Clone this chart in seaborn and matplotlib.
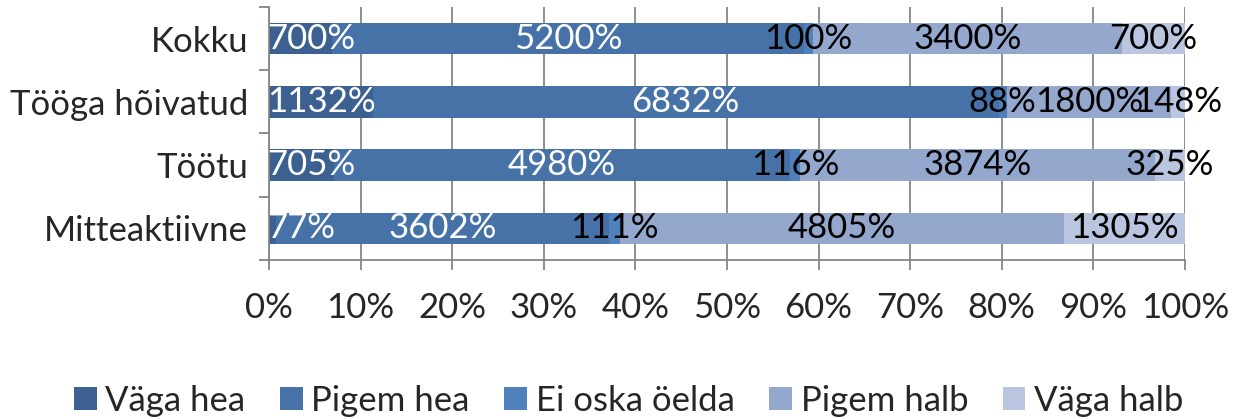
import numpy as np
import pandas as pd
import matplotlib
matplotlib.use("Agg")
import matplotlib.pyplot as plt
import seaborn as sns
from matplotlib.patches import Patch
from matplotlib.transforms import offset_copy

sns.set_style("white")
plt.rcParams['font.family'] = ['Lato', 'DejaVu Sans']

categories = ["Kokku", "Tööga hõivatud", "Töötu", "Mitteaktiivne"]
answers = ["Väga hea", "Pigem hea", "Ei oska öelda", "Pigem halb", "Väga halb"]
vaga_hea = [7.00, 11.32, 7.05, 0.77]
pigem_hea = [52.00, 68.32, 49.80, 36.02]
ei_oska = [1.00, 0.88, 1.16, 1.11]
pigem_halb = [34.00, 18.00, 38.74, 48.05]
vaga_halb = [7.00, 1.48, 3.25, 13.05]
colors = ["#3c6191", "#4672a8", "#4f81bd", "#94a8ce", "#bac5e0"]
text_colors = ["white", "white", "black", "black", "black"]
fs = 25

df = pd.DataFrame({"group": categories, "Väga hea": vaga_hea, "Pigem hea": pigem_hea,
                   "Ei oska öelda": ei_oska, "Pigem halb": pigem_halb, "Väga halb": vaga_halb})
shares = df[answers].div(df[answers].sum(axis=1), axis=0)
ends = shares.cumsum(axis=1)
starts = ends - shares

fig = plt.figure(figsize=(12.45, 4.19), dpi=100)
ax = fig.add_axes([269 / 1245, 1 - 260 / 419, 916 / 1245, 253 / 419])
ax.set_axisbelow(True)

# draw the cumulative bars from the last answer to the first so they stack
for i in range(len(answers) - 1, -1, -1):
    sns.barplot(x=ends[answers[i]], y=df["group"], order=categories, orient="h",
                color=colors[i], saturation=1, width=0.5, linewidth=0, ax=ax)

labels = []
for i, a in enumerate(answers):
    for j, g in enumerate(categories):
        mid = (starts.loc[j, a] + ends.loc[j, a]) / 2
        val = df.loc[j, a]
        t = ax.text(mid, j, f"{int(round(val * 100))}%", ha="center", va="center",
                    fontsize=fs, color=text_colors[i])
        labels.append(t)

ax.set_xlim(0, 1)
ax.set_ylim(3.5, -0.5)
ax.set_xticks(np.arange(0, 1.01, 0.1))
ax.set_xticklabels([f"{int(round(t * 100))}%" for t in np.arange(0, 1.01, 0.1)])
ax.set_yticks(range(len(categories)))
ax.set_yticklabels(categories)
ax.set_yticks(np.arange(-0.5, 3.6, 1), minor=True)
ax.set_xlabel("")
ax.set_ylabel("")

gray = "#868686"
ax.grid(axis="x", color=gray, linewidth=1.3)
for s in ["top", "right"]:
    ax.spines[s].set_visible(False)
for s in ["left", "bottom"]:
    ax.spines[s].set_color(gray)
    ax.spines[s].set_linewidth(1.3)
ax.tick_params(axis="x", direction="out", length=7, width=1.3, color=gray,
               labelsize=fs, pad=16, bottom=True)
ax.tick_params(axis="y", which="major", length=0, labelsize=fs, pad=15)
ax.tick_params(axis="y", which="minor", direction="out", length=7, width=1.3,
               color=gray, left=True)

# keep data labels inside the plot area on the left, like Excel does
fig.canvas.draw()
r = fig.canvas.get_renderer()
left_px = ax.transAxes.transform((0, 0))[0]
for t in labels:
    bb = t.get_window_extent(r)
    if bb.x0 < left_px - 2:
        shift = (left_px - 2 - bb.x0) * 72 / fig.dpi
        t.set_transform(offset_copy(ax.transData, fig=fig, x=shift, y=0, units="points"))

handles = [Patch(facecolor=c, edgecolor="none") for c in colors]
fig.legend(handles, answers, loc="lower center", bbox_to_anchor=(0.505, -0.07), ncol=5,
           frameon=False, fontsize=fs, handlelength=0.65, handleheight=0.65,
           handletextpad=0.25, columnspacing=1.0)

fig.savefig("out.png", dpi=100)
